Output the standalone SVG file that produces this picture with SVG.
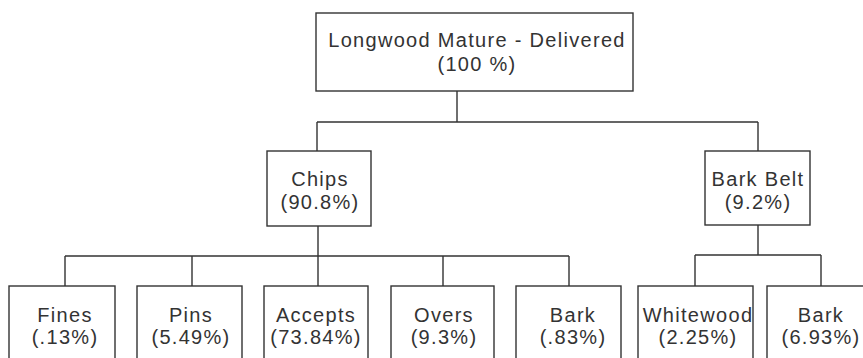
<svg xmlns="http://www.w3.org/2000/svg" width="863" height="358" viewBox="0 0 863 358">
<style>
.box{fill:#fff;stroke:#333;stroke-width:1.4}
.ln{fill:none;stroke:#333;stroke-width:1.4}
text{font-family:"Liberation Sans",Arial,sans-serif;font-size:20px;fill:#333;text-anchor:middle;letter-spacing:1.3px}
</style>
<rect width="863" height="358" fill="#fff"/>
<g id="connectors">
<path class="ln" d="M457,91V122M317,122H758M317,122V151M758,122V151"/>
<path class="ln" d="M318,226V256M65,256H569M65,256V286M192,256V286M318,256V286M443,256V286M569,256V286"/>
<path class="ln" d="M758,225V255M695,255H821M695,255V286M821,255V286"/>
</g>
<g id="root"><rect class="box" x="316" y="13" width="317" height="78"/><text x="477" y="47">Longwood Mature - Delivered</text><text x="477" y="71">(100 %)</text></g>
<g id="chips"><rect class="box" x="267" y="151" width="104" height="75"/><text x="320" y="186">Chips</text><text x="320" y="209">(90.8%)</text></g>
<g id="barkbelt"><rect class="box" x="705" y="151" width="105" height="74"/><text x="758" y="186">Bark Belt</text><text x="758" y="209">(9.2%)</text></g>
<g id="fines"><rect class="box" x="9" y="286" width="106" height="100"/><text x="65" y="322">Fines</text><text x="65" y="344">(.13%)</text></g>
<g id="pins"><rect class="box" x="137" y="286" width="105" height="100"/><text x="191" y="322">Pins</text><text x="191" y="344">(5.49%)</text></g>
<g id="accepts"><rect class="box" x="264" y="286" width="104" height="100"/><text x="316" y="322">Accepts</text><text x="316" y="344">(73.84%)</text></g>
<g id="overs"><rect class="box" x="391" y="286" width="103" height="100"/><text x="444" y="322">Overs</text><text x="444" y="344">(9.3%)</text></g>
<g id="bark1"><rect class="box" x="516" y="286" width="105" height="100"/><text x="573" y="322">Bark</text><text x="573" y="344">(.83%)</text></g>
<g id="whitewood"><rect class="box" x="638" y="286" width="115" height="100"/><text x="698" y="322">Whitewood</text><text x="698" y="344">(2.25%)</text></g>
<g id="bark2"><rect class="box" x="767" y="286" width="110" height="100"/><text x="821" y="322">Bark</text><text x="821" y="344">(6.93%)</text></g>
</svg>
